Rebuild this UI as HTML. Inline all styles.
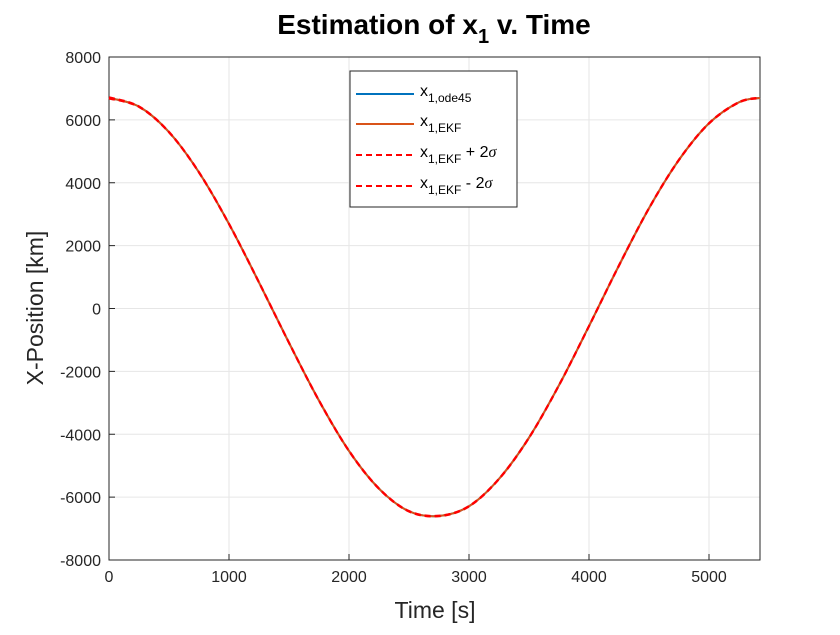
<!DOCTYPE html>
<html><head><meta charset="utf-8"><style>
body{margin:0;background:#fff;}
svg{font-family:"Liberation Sans",Arial,sans-serif;}
</style></head><body>
<svg id="chart" width="840" height="630">
<rect width="840" height="630" fill="#fff"/>
<g id="grid"></g>
<rect x="109" y="57" width="651" height="503" fill="none" stroke="#262626" stroke-width="1"/>
<g id="ticks"></g>
<g id="series"></g>
<text x="434" y="34" text-anchor="middle" font-size="28" font-weight="bold" fill="#000">Estimation of x<tspan font-size="20" dy="9">1</tspan><tspan dy="-9"> v. Time</tspan></text>
<text x="435" y="618" text-anchor="middle" font-size="23" fill="#262626">Time [s]</text>
<text transform="translate(43,308) rotate(-90)" text-anchor="middle" font-size="23" fill="#262626">X-Position [km]</text>
<g>
<rect x="350" y="71" width="167" height="136" fill="#fff" stroke="#262626" stroke-width="1"/>
<g><line x1="356" y1="94" x2="414" y2="94" stroke="#0072BD" stroke-width="2"/><text x="420" y="96" font-size="16" fill="#000">x<tspan font-size="12" dy="6">1,ode45</tspan></text></g>
<g><line x1="356" y1="124" x2="414" y2="124" stroke="#D95319" stroke-width="2"/><text x="420" y="126" font-size="16" fill="#000">x<tspan font-size="12" dy="6">1,EKF</tspan></text></g>
<g><line x1="356" y1="155" x2="414" y2="155" stroke="#FF0000" stroke-width="2" stroke-dasharray="6,4"/><text x="420" y="157" font-size="16" fill="#000">x<tspan font-size="12" dy="6">1,EKF</tspan><tspan dy="-6"> + 2</tspan><tspan font-family="Liberation Serif" font-style="italic">σ</tspan></text></g>
<g><line x1="356" y1="186" x2="414" y2="186" stroke="#FF0000" stroke-width="2" stroke-dasharray="6,4"/><text x="420" y="188" font-size="16" fill="#000">x<tspan font-size="12" dy="6">1,EKF</tspan><tspan dy="-6"> - 2</tspan><tspan font-family="Liberation Serif" font-style="italic">σ</tspan></text></g>
</g>
</svg>
<script>
const times = [0,250,500,750,1000,1250,1500,1750,2000,2250,2500,2750,3000,3250,3500,3750,4000,4250,4500,4750,5000,5250,5425];
const x1Ode45 = [6700,6420,5610,4330,2690,830,-1090,-2930,-4530,-5730,-6450,-6600,-6290,-5420,-4110,-2440,-560,1370,3190,4730,5890,6560,6700];
const x1Ekf = [6700,6420,5610,4330,2690,830,-1090,-2930,-4530,-5730,-6450,-6600,-6290,-5420,-4110,-2440,-560,1370,3190,4730,5890,6560,6700];
const x1Plus = [6720,6430,5620,4340,2700,840,-1080,-2920,-4520,-5720,-6440,-6590,-6280,-5410,-4100,-2430,-550,1380,3200,4740,5900,6570,6710];
const x1Minus = [6680,6410,5600,4320,2680,820,-1100,-2940,-4540,-5740,-6460,-6610,-6300,-5430,-4120,-2450,-570,1360,3180,4720,5880,6550,6690];
const xTicks = [0,1000,2000,3000,4000,5000];
const yTicks = [-8000,-6000,-4000,-2000,0,2000,4000,6000,8000];
const X0=109,X1=760,Y0=560,Y1=57,XMAX=5425;
const sx=v=>X0+v/XMAX*(X1-X0);
const sy=v=>Y0-(v+8000)/16000*(Y0-Y1);
const NS='http://www.w3.org/2000/svg';
function mk(t,a,p){const e=document.createElementNS(NS,t);for(const k in a)e.setAttribute(k,a[k]);p.appendChild(e);return e;}
const grid=document.getElementById('grid'),ticks=document.getElementById('ticks'),series=document.getElementById('series');
xTicks.forEach(v=>{const x=sx(v);
 const g=mk('line',{x1:x,y1:Y0,x2:x,y2:Y1,stroke:'#e6e6e6','stroke-width':1},grid);
 
 
 const t=mk('text',{x:x,y:Y0+22,'text-anchor':'middle','font-size':16,fill:'#262626'},ticks);t.textContent=v;
 
 
 mk('line',{x1:x,y1:Y0,x2:x,y2:Y0-6,stroke:'#262626'},ticks);
});
yTicks.forEach(v=>{const y=sy(v);
 const g=mk('line',{x1:X0,y1:y,x2:X1,y2:y,stroke:'#e6e6e6','stroke-width':1},grid);
 
 
 const t=mk('text',{x:X0-8,y:y+6,'text-anchor':'end','font-size':16,fill:'#262626'},ticks);t.textContent=v;
 
 
 mk('line',{x1:X0,y1:y,x2:X0+6,y2:y,stroke:'#262626'},ticks);
});
function pathD(ys){const p=times.map((t,i)=>[sx(t),sy(ys[i])]);let d='M'+p[0][0]+','+p[0][1];
 for(let i=0;i<p.length-1;i++){const a=p[Math.max(0,i-1)],b=p[i],c=p[i+1],e=p[Math.min(p.length-1,i+2)];
  d+=' C'+(b[0]+(c[0]-a[0])/6)+','+(b[1]+(c[1]-a[1])/6)+' '+(c[0]-(e[0]-b[0])/6)+','+(c[1]-(e[1]-b[1])/6)+' '+c[0]+','+c[1];}
 return d;}
const s1=mk('path',{d:pathD(x1Ode45),fill:'none',stroke:'#0072BD','stroke-width':2},series);


const s2=mk('path',{d:pathD(x1Ekf),fill:'none',stroke:'#D95319','stroke-width':2},series);


const s3=mk('path',{d:pathD(x1Plus),fill:'none',stroke:'#FF0000','stroke-width':2,'stroke-dasharray':'6,4'},series);


const s4=mk('path',{d:pathD(x1Minus),fill:'none',stroke:'#FF0000','stroke-width':2,'stroke-dasharray':'6,4'},series);


</script>
</body></html>
